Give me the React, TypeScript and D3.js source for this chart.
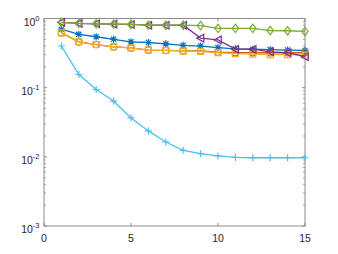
import React from "react";
import * as d3 from "d3";

const xs = [1, 2, 3, 4, 5, 6, 7, 8, 9, 10, 11, 12, 13, 14, 15];
const blueStar = [0.7, 0.59, 0.545, 0.5, 0.46, 0.45, 0.43, 0.41, 0.4, 0.38, 0.365, 0.36, 0.355, 0.35, 0.345];
const orangeCircle = [0.62, 0.46, 0.42, 0.39, 0.375, 0.35, 0.345, 0.34, 0.34, 0.325, 0.32, 0.32, 0.32, 0.32, 0.32];
const yellowSquare = [0.62, 0.46, 0.42, 0.39, 0.375, 0.35, 0.345, 0.34, 0.335, 0.32, 0.31, 0.305, 0.3, 0.3, 0.295];
const purpleTri = [0.88, 0.85, 0.84, 0.83, 0.82, 0.8, 0.8, 0.8, 0.52, 0.49, 0.36, 0.36, 0.33, 0.32, 0.28];
const greenDiamond = [0.88, 0.85, 0.84, 0.83, 0.82, 0.8, 0.8, 0.8, 0.79, 0.72, 0.72, 0.72, 0.67, 0.665, 0.65];
const lightBluePlus = [0.4, 0.155, 0.094, 0.064, 0.0365, 0.0237, 0.0164, 0.0124, 0.0111, 0.0103, 0.0098, 0.0097, 0.0097, 0.0097, 0.0097];

const xTicks = [0, 5, 10, 15];
const yTickExps = [-3, -2, -1, 0];

const series = [
  { values: blueStar, color: "#0072BD", marker: "star" },
  { values: orangeCircle, color: "#D95319", marker: "circle" },
  { values: yellowSquare, color: "#EDB120", marker: "square" },
  { values: purpleTri, color: "#7E2F8E", marker: "triLeft" },
  { values: greenDiamond, color: "#77AC30", marker: "diamond" },
  { values: lightBluePlus, color: "#4DBEEE", marker: "plus" },
];

const L = 44, R = 305, T = 18.5, B = 226;

function Marker({ type, x, y, color }: { type: string; x: number; y: number; color: string }) {
  const p = { stroke: color, strokeWidth: 1.2, fill: "none" };
  switch (type) {
    case "star":
      return (
        <g {...p}>
          <path d={`M${x - 3.5},${y}H${x + 3.5}M${x},${y - 3.5}V${y + 3.5}M${x - 2.6},${y - 2.6}L${x + 2.6},${y + 2.6}M${x - 2.6},${y + 2.6}L${x + 2.6},${y - 2.6}`} />
        </g>
      );
    case "circle":
      return <circle cx={x} cy={y} r={3.2} {...p} />;
    case "square":
      return <rect x={x - 3} y={y - 3} width={6} height={6} {...p} />;
    case "triLeft":
      return <path d={`M${x - 3.8},${y}L${x + 3.2},${y - 3.8}L${x + 3.2},${y + 3.8}Z`} {...p} />;
    case "diamond":
      return <path d={`M${x},${y - 4.2}L${x + 3.2},${y}L${x},${y + 4.2}L${x - 3.2},${y}Z`} {...p} />;
    case "plus":
      return <path d={`M${x - 3.5},${y}H${x + 3.5}M${x},${y - 3.5}V${y + 3.5}`} {...p} />;
  }
  return null;
}

export default function App() {
  const x = d3.scaleLinear().domain([0, 15]).range([L, R]);
  const y = d3.scaleLog().domain([1e-3, 1]).range([B, T]);
  const line = d3.line<number>().x((_, i) => x(xs[i])).y((v) => y(v));
  const axisColor = "#8c8c8c";
  const textColor = "#262626";
  const minor: number[] = [];
  for (let e = -3; e < 0; e++) for (let m = 2; m <= 9; m++) minor.push(m * Math.pow(10, e));

  return (
    <svg width={338} height={254} style={{ position: "absolute", left: 0, top: 0, background: "#fff" }}
      fontFamily="Liberation Sans, Arial, Helvetica, sans-serif">
      <rect x={0} y={0} width={338} height={254} fill="#fff" />
      {/* axes box */}
      <rect x={L} y={T} width={R - L} height={B - T} fill="none" stroke={axisColor} strokeWidth={1} />
      {/* x ticks */}
      {xTicks.map((t) => (
        <g key={"xt" + t}>
          <line x1={x(t)} x2={x(t)} y1={B} y2={B - 3} stroke={axisColor} />
          <line x1={x(t)} x2={x(t)} y1={T} y2={T + 3} stroke={axisColor} />
          <text x={x(t)} y={B + 16} textAnchor="middle" fontSize={10.5} fill={textColor}>{t}</text>
        </g>
      ))}
      {/* y ticks */}
      {yTickExps.map((e) => (
        <g key={"yt" + e}>
          <line x1={L} x2={L + 3} y1={y(Math.pow(10, e))} y2={y(Math.pow(10, e))} stroke={axisColor} />
          <line x1={R} x2={R - 3} y1={y(Math.pow(10, e))} y2={y(Math.pow(10, e))} stroke={axisColor} />
          <text x={39.5} y={y(Math.pow(10, e)) + 7} textAnchor="end" fontSize={10.5} fill={textColor}>
            10<tspan dy={-5} fontSize={7.5}>{e}</tspan>
          </text>
        </g>
      ))}
      {minor.map((v, i) => (
        <g key={"mn" + i}>
          <line x1={L} x2={L + 2} y1={y(v)} y2={y(v)} stroke={axisColor} strokeWidth={0.8} />
          <line x1={R} x2={R - 2} y1={y(v)} y2={y(v)} stroke={axisColor} strokeWidth={0.8} />
        </g>
      ))}
      {series.map((s, si) => (
        <g key={"s" + si}>
          <path d={line(s.values) || ""} fill="none" stroke={s.color} strokeWidth={1.3} />
          {s.values.map((v, i) => (
            <Marker key={i} type={s.marker} x={x(xs[i])} y={y(v)} color={s.color} />
          ))}
        </g>
      ))}
    </svg>
  );
}
